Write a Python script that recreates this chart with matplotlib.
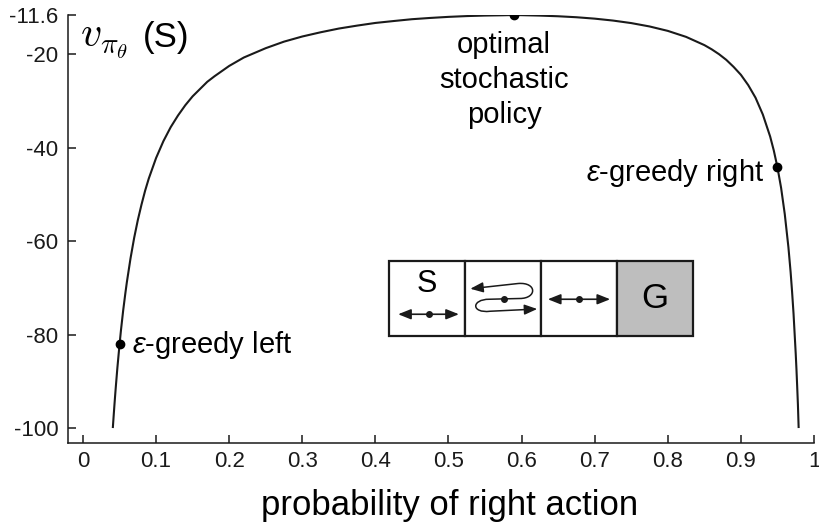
import matplotlib
matplotlib.use('Agg')
import matplotlib.pyplot as plt
from matplotlib.patches import Rectangle, FancyArrowPatch
from matplotlib.path import Path

plt.rcParams['font.family'] = ['Liberation Sans', 'DejaVu Sans']
plt.rcParams['mathtext.fontset'] = 'cm'
plt.rcParams['mathtext.it'] = 'Liberation Sans:italic'
plt.rcParams['mathtext.rm'] = 'Liberation Sans'
plt.rcParams['axes.unicode_minus'] = False

# values
prob_right = [0.0408, 0.042, 0.043, 0.044, 0.045, 0.047, 0.05, 0.052, 0.055, 0.058,
              0.06, 0.065, 0.07, 0.075, 0.08, 0.085, 0.09, 0.10, 0.11, 0.12,
              0.13, 0.14, 0.15, 0.17, 0.18, 0.20, 0.22, 0.25, 0.275, 0.30,
              0.325, 0.35, 0.375, 0.40, 0.425, 0.45, 0.475, 0.50, 0.525, 0.55,
              0.575, 0.59, 0.625, 0.65, 0.675, 0.70, 0.725, 0.75, 0.775, 0.80,
              0.825, 0.85, 0.86, 0.87, 0.88, 0.89, 0.90, 0.91, 0.92, 0.93,
              0.94, 0.945, 0.95, 0.955, 0.96, 0.965, 0.968, 0.97, 0.972, 0.975,
              0.976, 0.977, 0.978, 0.979]
value_S = [-100.0, -97.3, -95.1, -93.0, -91.0, -87.2, -82.1, -79.0, -74.8, -71.1,
           -68.8, -63.7, -59.3, -55.5, -52.2, -49.2, -46.6, -42.2, -38.6, -35.6,
           -33.1, -30.9, -29.0, -25.9, -24.7, -22.5, -20.7, -18.7, -17.3, -16.2,
           -15.3, -14.5, -13.87, -13.3, -12.89, -12.5, -12.23, -12.0, -11.83, -11.72,
           -11.66, -11.6, -11.73, -11.87, -12.08, -12.38, -12.79, -13.33, -14.05, -15.0,
           -16.28, -18.04, -18.94, -19.98, -21.2, -22.7, -24.4, -26.6, -29.3, -32.9,
           -37.6, -40.6, -44.2, -48.6, -54.2, -61.3, -66.6, -70.8, -75.5, -84.1,
           -87.4, -91.1, -95.0, -100.0]

marked_p = [0.05, 0.59, 0.95]
marked_v = [-82.1, -11.6, -44.2]
marked_labels = [r'$\varepsilon$-greedy left', 'optimal\nstochastic\npolicy',
                 r'$\varepsilon$-greedy right']

x_ticks = [0, 0.1, 0.2, 0.3, 0.4, 0.5, 0.6, 0.7, 0.8, 0.9, 1.0]
x_tick_labels = ['0', '0.1', '0.2', '0.3', '0.4', '0.5', '0.6', '0.7', '0.8', '0.9', '1']
y_ticks = [-11.6, -20, -40, -60, -80, -100]
y_tick_labels = ['-11.6', '-20', '-40', '-60', '-80', '-100']
cell_labels = ['S', '', '', 'G']

W, H = 820, 529
fig = plt.figure(figsize=(W / 100, H / 100), dpi=100)


def fx(x):
    return x / W


def fy(y):
    return 1 - y / H


ax = fig.add_axes([fx(68), fy(443), (814 - 68) / W, (443 - 15) / H])
ax.plot(prob_right, value_S, color='#1a1a1a', lw=1.5, solid_capstyle='butt',
        solid_joinstyle='round')
ax.plot(marked_p, marked_v, 'o', color='black', ms=6, zorder=5)
ax.set_xlim(-0.0205, 1.0)
ax.set_ylim(-103.2, -11.6)
ax.set_xticks(x_ticks)
ax.set_xticklabels(x_tick_labels)
ax.set_yticks(y_ticks)
ax.set_yticklabels(y_tick_labels)
for s in ['top', 'right']:
    ax.spines[s].set_visible(False)
for s in ['left', 'bottom']:
    ax.spines[s].set_linewidth(1.1)
    ax.spines[s].set_color('#1a1a1a')
ax.tick_params(axis='both', direction='in', length=6, width=1.1, labelsize=16,
               colors='#1a1a1a')
ax.tick_params(axis='x', pad=6)
ax.tick_params(axis='y', pad=7)

# annotations
fig.text(fx(132), fy(353), marked_labels[0], fontsize=21, ha='left', va='baseline',
         math_fontfamily='custom')
fig.text(fx(504), fy(31), marked_labels[1], fontsize=21, ha='center', va='top',
         linespacing=1.32)
fig.text(fx(764), fy(181), marked_labels[2], fontsize=21, ha='right', va='baseline',
         math_fontfamily='custom')

# y label
fig.text(fx(80), fy(47), r'$v_{\pi_{\theta}}$', fontsize=30, ha='left', va='baseline')
fig.text(fx(143), fy(47), '(S)', fontsize=25, ha='left', va='baseline')

# x label
fig.text(fx(450), fy(515), 'probability of right action', fontsize=25,
         ha='center', va='baseline')

# corridor gridworld inset
ins = fig.add_axes([fx(389), fy(336), (693 - 389) / W, (336 - 261) / H])
ins.set_xlim(0, 4)
ins.set_ylim(0, 1)
ins.axis('off')
for i, lab in enumerate(cell_labels):
    fc = '#bebebe' if lab == 'G' else 'white'
    ins.add_patch(Rectangle((i, 0), 1, 1, facecolor=fc, edgecolor='#1a1a1a',
                            lw=1.6, clip_on=False))
ins.text(0.5, 0.69, 'S', fontsize=22, ha='center', va='center')
ins.text(3.5, 0.5, 'G', fontsize=25, ha='center', va='center')

astyle = dict(arrowstyle='<|-|>,head_length=0.55,head_width=0.22', color='#1a1a1a',
              lw=1.2, shrinkA=0, shrinkB=0, mutation_scale=14)
ins.annotate('', xy=(0.12, 0.29), xytext=(0.92, 0.29), arrowprops=astyle)
ins.plot([0.52], [0.29], 'o', color='#1a1a1a', ms=4)
ins.annotate('', xy=(2.09, 0.49), xytext=(2.91, 0.49), arrowprops=astyle)
ins.plot([2.5], [0.49], 'o', color='#1a1a1a', ms=4)

verts = [(1.07, 0.63), (1.70, 0.70),
         (1.95, 0.72), (1.95, 0.50), (1.72, 0.50),
         (1.51, 0.495), (1.32, 0.49),
         (1.08, 0.49), (1.08, 0.30), (1.33, 0.33),
         (1.95, 0.36)]
codes = [Path.MOVETO, Path.LINETO,
         Path.CURVE4, Path.CURVE4, Path.CURVE4,
         Path.LINETO, Path.LINETO,
         Path.CURVE4, Path.CURVE4, Path.CURVE4,
         Path.LINETO]
squig = FancyArrowPatch(path=Path(verts, codes),
                        arrowstyle='<|-|>,head_length=0.55,head_width=0.22',
                        color='#1a1a1a', lw=1.1, mutation_scale=14)
ins.add_patch(squig)
ins.plot([1.51], [0.495], 'o', color='#1a1a1a', ms=4)

fig.savefig('out.png', dpi=100)
